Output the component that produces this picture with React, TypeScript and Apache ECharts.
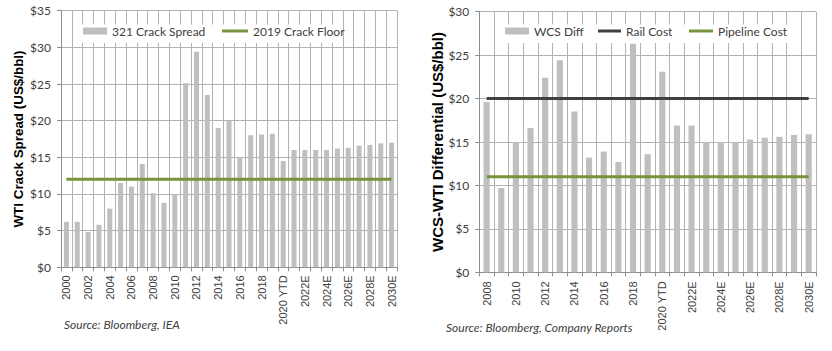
import React, { useEffect, useRef } from 'react';
import * as echarts from 'echarts';

// ---- Left chart data ----
const crackYears = [
  '2000', '2001', '2002', '2003', '2004', '2005', '2006', '2007', '2008', '2009',
  '2010', '2011', '2012', '2013', '2014', '2015', '2016', '2017', '2018', '2019',
  '2020 YTD', '2021E', '2022E', '2023E', '2024E', '2025E', '2026E', '2027E', '2028E', '2029E', '2030E',
];
const crackSpread = [
  6.2, 6.2, 4.8, 5.8, 8.0, 11.5, 11.0, 14.1, 10.1, 8.8,
  10.0, 25.1, 29.4, 23.5, 19.0, 20.0, 15.0, 18.0, 18.1, 18.2,
  14.5, 16.0, 16.0, 16.0, 16.0, 16.2, 16.3, 16.6, 16.7, 16.9, 17.0,
];
const crackFloor = 12;

// ---- Right chart data ----
const wcsYears = [
  '2008', '2009', '2010', '2011', '2012', '2013', '2014', '2015', '2016', '2017', '2018', '2019',
  '2020 YTD', '2021E', '2022E', '2023E', '2024E', '2025E', '2026E', '2027E', '2028E', '2029E', '2030E',
];
const wcsDiff = [
  19.6, 9.7, 15.0, 16.6, 22.4, 24.4, 18.5, 13.2, 13.9, 12.7, 26.3, 13.6,
  23.1, 16.9, 16.9, 15.0, 15.0, 15.0, 15.3, 15.5, 15.6, 15.8, 15.9,
];
const railCost = 20;
const pipelineCost = 11;

const BAR = '#bfbfbf';
const GREEN = '#77933c';
const RAIL = '#404040';
const GRIDC = '#b3b3b3';
const AXISC = '#8c8c8c';
const TEXTC = '#404040';

const legendText = { fontFamily: 'Lato', fontSize: 12, color: TEXTC, lineHeight: 14 };

function xAxisOf(gridIndex: number, data: string[], margin: number) {
  return {
    type: 'category',
    gridIndex,
    data,
    boundaryGap: true,
    axisLine: { show: true, lineStyle: { color: AXISC } },
    axisTick: { show: true, interval: 0, length: 4, lineStyle: { color: AXISC } },
    splitLine: { show: true, interval: 0, lineStyle: { color: GRIDC } },
    axisLabel: {
      interval: 1,
      rotate: 90,
      margin,
      fontFamily: 'Liberation Sans',
      fontSize: 11,
      color: TEXTC,
    },
  };
}

function yAxisOf(gridIndex: number, max: number, name: string, nameGap: number, nameSize: number) {
  return {
    type: 'value',
    gridIndex,
    min: 0,
    max,
    interval: 5,
    axisLine: { show: true, lineStyle: { color: AXISC } },
    axisTick: { show: true, length: 4, lineStyle: { color: AXISC } },
    splitLine: { show: true, lineStyle: { color: GRIDC } },
    axisLabel: { formatter: '${value}', margin: 10, fontFamily: 'Lato', fontSize: 12, color: TEXTC },
    name,
    nameLocation: 'middle',
    nameRotate: 90,
    nameGap,
    nameTextStyle: { fontFamily: 'Liberation Sans', fontWeight: 'bold', fontSize: nameSize, color: '#000' },
  };
}

export default function App() {
  const ref = useRef<HTMLDivElement>(null);
  useEffect(() => {
    const chart = echarts.init(ref.current!, null, { renderer: 'svg' });
    const option: any = {
      animation: false,
      backgroundColor: '#fff',
      grid: [
        { left: 61, right: 435, top: 10.7, bottom: 83.7 },
        { left: 479.3, right: 16, top: 11.7, bottom: 78.7 },
      ],
      xAxis: [xAxisOf(0, crackYears, 8), xAxisOf(1, wcsYears, 9)],
      yAxis: [
        yAxisOf(0, 35, 'WTI Crack Spread (US$/bbl)', 36, 13.4),
        yAxisOf(1, 30, 'WCS-WTI Differential (US$/bbl)', 34, 15),
      ],
      legend: [
        { data: [{ name: '321 Crack Spread', icon: 'rect', itemStyle: { color: BAR } }], left: 83, top: 24, itemWidth: 24, itemHeight: 7, padding: 0, selectedMode: false, textStyle: legendText },
        { data: [{ name: '2019 Crack Floor', icon: 'rect', itemStyle: { color: GREEN } }], left: 222, top: 24, itemWidth: 26, itemHeight: 3, padding: 0, selectedMode: false, textStyle: legendText },
        { data: [{ name: 'WCS Diff', icon: 'rect', itemStyle: { color: BAR } }], left: 505, top: 24, itemWidth: 24, itemHeight: 7, padding: 0, selectedMode: false, textStyle: legendText },
        { data: [{ name: 'Rail Cost', icon: 'rect', itemStyle: { color: RAIL } }], left: 598, top: 24, itemWidth: 23, itemHeight: 3, padding: 0, selectedMode: false, textStyle: legendText },
        { data: [{ name: 'Pipeline Cost', icon: 'rect', itemStyle: { color: GREEN } }], left: 689, top: 24, itemWidth: 24, itemHeight: 3, padding: 0, selectedMode: false, textStyle: legendText },
      ],
      graphic: [
        { type: 'rect', z: 1, silent: true, shape: { x: 78, y: 24.5, width: 264, height: 18.5 }, style: { fill: '#fff' } },
        { type: 'rect', z: 1, silent: true, shape: { x: 500, y: 24.5, width: 292, height: 18.5 }, style: { fill: '#fff' } },
        { type: 'text', x: 64, y: 324, style: { text: 'Source: Bloomberg, IEA', font: 'italic 12px Lato', fill: TEXTC, align: 'left', verticalAlign: 'middle' } },
        { type: 'text', x: 446, y: 327.7, style: { text: 'Source: Bloomberg, Company Reports', font: 'italic 12px Lato', fill: TEXTC, align: 'left', verticalAlign: 'middle' } },
      ],
      series: [
        { type: 'bar', name: '321 Crack Spread', xAxisIndex: 0, yAxisIndex: 0, data: crackSpread, barWidth: '46%', itemStyle: { color: BAR } },
        { type: 'line', name: '2019 Crack Floor', xAxisIndex: 0, yAxisIndex: 0, data: crackYears.map(() => crackFloor), symbol: 'none', lineStyle: { color: GREEN, width: 3 }, itemStyle: { color: GREEN }, z: 3 },
        { type: 'bar', name: 'WCS Diff', xAxisIndex: 1, yAxisIndex: 1, data: wcsDiff, barWidth: '42%', itemStyle: { color: BAR } },
        { type: 'line', name: 'Rail Cost', xAxisIndex: 1, yAxisIndex: 1, data: wcsYears.map(() => railCost), symbol: 'none', lineStyle: { color: RAIL, width: 3 }, itemStyle: { color: RAIL }, z: 3 },
        { type: 'line', name: 'Pipeline Cost', xAxisIndex: 1, yAxisIndex: 1, data: wcsYears.map(() => pipelineCost), symbol: 'none', lineStyle: { color: GREEN, width: 3 }, itemStyle: { color: GREEN }, z: 3 },
      ],
    };
    chart.setOption(option);
    return () => chart.dispose();
  }, []);
  return (
    <div
      ref={ref}
      style={{ position: 'fixed', left: 0, top: 0, width: 832, height: 351, background: '#fff' }}
    />
  );
}
